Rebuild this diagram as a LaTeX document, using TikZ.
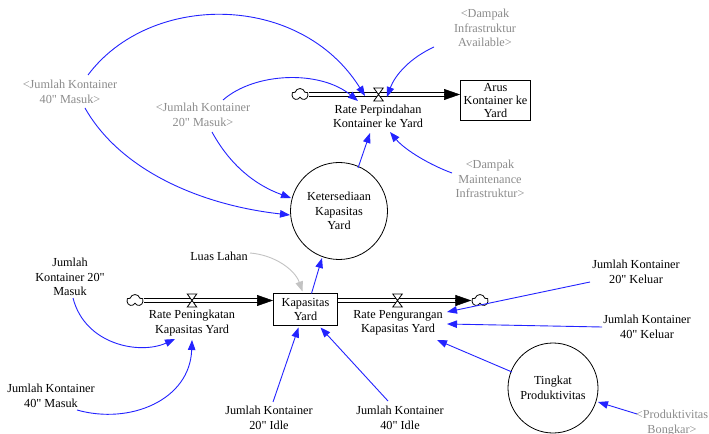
\documentclass[tikz,border=0pt]{standalone}
\usepackage{fontspec}
\setmainfont{Liberation Serif}[Ligatures=TeXOff]
\usetikzlibrary{arrows.meta,shapes.symbols,calc}
\definecolor{lnk}{RGB}{35,35,255}
\definecolor{gtx}{RGB}{140,140,140}
\definecolor{glk}{RGB}{195,195,195}
\tikzset{
 txt/.style={align=center,inner sep=0pt,font=\fontsize{12.3}{14.5}\selectfont},
 shadow/.style={txt,text=gtx},
 stock/.style={txt,draw,line width=1bp},
 aux/.style={txt,draw,circle,line width=0.8bp},
 cloudn/.style={cloud,draw,cloud puffs=5,cloud ignores aspect,minimum width=16bp,minimum height=12bp,inner sep=0pt,line width=0.8bp},
 pipe/.style={double=white,double distance=3bp,line width=1bp},
 pipetip/.style={line width=0.5bp,-{Triangle[length=16bp,width=11bp]}},
 link/.style={lnk,line width=0.9bp,-{Triangle[length=10bp,width=7.5bp]}},
 glink/.style={link,glk},
 valve/.pic={\filldraw[fill=white,line width=0.8bp] (-4.75,-6.5) -- (4.75,-6.5) -- (-4.75,6.5) -- (4.75,6.5) -- cycle;}
}
\begin{document}
\begin{tikzpicture}[x=1bp,y=-1bp]
\useasboundingbox[fill=white] (0,0) rectangle (709,434);
% nodes
\node[shadow] (g40m) at (70,92) {<Jumlah Kontainer\\40" Masuk>};
\node[shadow] (g20m) at (203,115) {<Jumlah Kontainer\\20" Masuk>};
\node[shadow] (gdia) at (485,28) {<Dampak\\Infrastruktur\\Available>};
\node[shadow] (gdmi) at (490,179) {<Dampak\\Maintenance\\Infrastruktur>};
\node[txt] (rp) at (378,116.5) {Rate Perpindahan\\Kontainer ke Yard};
\node[stock,minimum width=70bp,minimum height=40bp,font=\fontsize{12.3}{13}\selectfont] (arus) at (495.5,100.5) {Arus\\Kontainer ke\\Yard};
\node[aux,minimum size=97bp] (ket) at (339,211) {Ketersediaan\\Kapasitas\\Yard};
\node[txt] (luas) at (219,256) {Luas Lahan};
\node[stock,minimum width=64bp,minimum height=32bp] (kap) at (305.5,309.5) {Kapasitas\\Yard};
\node[txt] (rpk) at (192,323) {Rate Peningkatan\\Kapasitas Yard};
\node[txt] (rpg) at (398,323) {Rate Pengurangan\\Kapasitas Yard};
\node[txt] (jk20m) at (70,277) {Jumlah\\Kontainer 20"\\Masuk};
\node[txt] (jk40m) at (51,396) {Jumlah Kontainer\\40" Masuk};
\node[txt] (jk20i) at (269,418) {Jumlah Kontainer\\20" Idle};
\node[txt] (jk40i) at (400,418) {Jumlah Kontainer\\40" Idle};
\node[txt] (jk20k) at (636,272) {Jumlah Kontainer\\20" Keluar};
\node[txt] (jk40k) at (647,327) {Jumlah Kontainer\\40" Keluar};
\node[aux,minimum size=90bp] (tp) at (553,388) {Tingkat\\Produktivitas};
\node[shadow] (gpb) at (672,423) {<Produktivitas\\Bongkar>};
% clouds
\node[cloudn] (c1) at (300,94.5) {};
\node[cloudn] (c2) at (135,300.5) {};
\node[cloudn] (c3) at (480,300.5) {};
% pipes
\draw[pipe] (c1.east) -- ([xshift=-14]c1.east -| arus.west);
\draw[pipetip] ([xshift=-16]c1.east -| arus.west) -- (c1.east -| arus.west);
\draw[pipe] (c2.east) -- ([xshift=-14]c2.east -| kap.west);
\draw[pipetip] ([xshift=-16]c2.east -| kap.west) -- (c2.east -| kap.west);
\draw[pipe] (c3.west -| kap.east) -- ([xshift=-14]c3.west);
\draw[pipetip] ([xshift=-16]c3.west) -- (c3.west);
% valves
\coordinate (v1) at (378.5,94.5);
\coordinate (v2) at (192,300.5);
\coordinate (v3) at (397.5,300.5);
\pic at (v1) {valve};
\pic at (v2) {valve};
\pic at (v3) {valve};
% links
\draw[link] ([shift={(18,-17)}]g40m.center) .. controls (150,-8) and (300,-8) .. ([shift={(-13,-20.5)}]rp.center);
\draw[link] ([shift={(15,16)}]g40m.center) .. controls (120,170) and (200,205) .. ([shift={(-49,4)}]ket.center);
\draw[link] ([shift={(20,-15)}]g20m.center) .. controls (255,72) and (320,70) .. ([shift={(-20,-15.5)}]rp.center);
\draw[link] ([shift={(9,17)}]g20m.center) .. controls (230,165) and (255,185) .. ([shift={(-48,-13)}]ket.center);
\draw[link] ([shift={(-51,19)}]gdia.center) .. controls (410,58) and (395,75) .. ([shift={(9,-19.5)}]rp.center);
\draw[link] ([shift={(19,-43)}]ket.center) -- ([shift={(-8,16.5)}]rp.center);
\draw[link] ([shift={(-38,-6)}]gdmi.center) .. controls (430,165) and (405,150) .. ([shift={(12,15.5)}]rp.center);
\draw[glink] ([shift={(31,-3)}]luas.center) .. controls (275,255) and (295,270) .. ([shift={(-3,-18)}]kap.center);
\draw[link] ([shift={(6,-16)}]kap.center) -- ([shift={(-17,47)}]ket.center);
\draw[link] ([shift={(3,21)}]jk20m.center) .. controls (85,345) and (140,355) .. ([shift={(-17,16)}]rpk.center);
\draw[link] ([shift={(26,14)}]jk40m.center) .. controls (130,425) and (190,400) .. ([shift={(0,17)}]rpk.center);
\draw[link] ([shift={(4,-16)}]jk20i.center) -- ([shift={(-7,18)}]kap.center);
\draw[link] ([shift={(-12,-17)}]jk40i.center) -- ([shift={(15,18)}]kap.center);
\draw[link] ([shift={(-46,10)}]jk20k.center) -- ([shift={(49,-11)}]rpg.center);
\draw[link] ([shift={(-45,0)}]jk40k.center) -- ([shift={(49,1)}]rpg.center);
\draw[link] ([shift={(-41,-16)}]tp.center) -- ([shift={(39,17)}]rpg.center);
\draw[link] ([shift={(-35,-9)}]gpb.center) -- ([shift={(45,14)}]tp.center);
\end{tikzpicture}
\end{document}
